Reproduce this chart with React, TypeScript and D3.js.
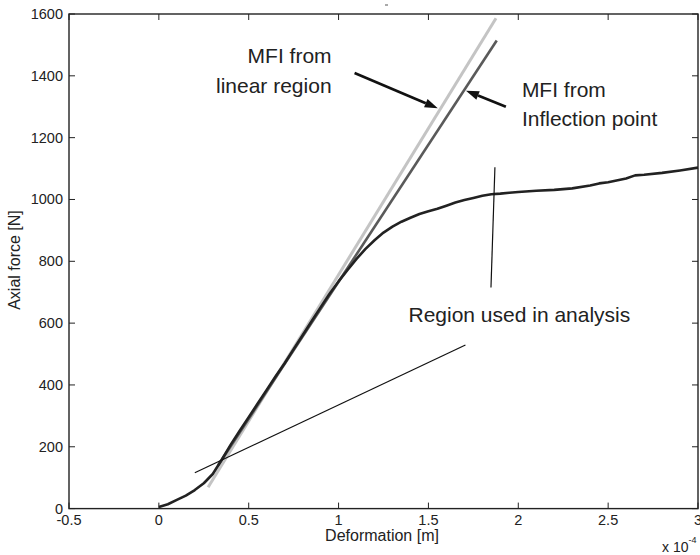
import React from "react";
import * as d3 from "d3";

// Measured force–deformation curve (deformation in 1e-4 m, force in N)
const measuredDeformation = [
  0.0, 0.05, 0.1, 0.15, 0.2, 0.25, 0.3, 0.35, 0.4, 0.45, 0.5, 0.55, 0.6, 0.65,
  0.7, 0.75, 0.8, 0.85, 0.9, 0.95, 1.0, 1.05, 1.1, 1.15, 1.2, 1.25, 1.3, 1.35,
  1.4, 1.45, 1.5, 1.55, 1.6, 1.65, 1.7, 1.75, 1.8, 1.85, 1.9, 1.95, 2.0, 2.1,
  2.2, 2.3, 2.4, 2.45, 2.5, 2.6, 2.65, 2.7, 2.8, 2.9, 3.0,
];
const measuredForce = [
  5, 14, 28, 42, 60, 82, 112, 158, 207, 252, 296, 340, 384, 428,
  470, 516, 561, 606, 651, 695, 735, 772, 808, 840, 868, 893, 912, 928,
  941, 953, 962, 970, 980, 990, 998, 1005, 1012, 1017, 1019, 1022, 1024, 1028,
  1031, 1036, 1045, 1052, 1056, 1068, 1078, 1080, 1086, 1094, 1103,
];

// Fitted MFI lines: [deformation, force] end points
const mfiLinear: [number, number][] = [[0.274, 69], [1.876, 1586]];
const mfiInflection: [number, number][] = [[0.33, 140], [1.88, 1514]];

// Markers delimiting the region used in analysis
const regionLower: [number, number][] = [[0.2, 116], [1.706, 529]];
const regionUpper: [number, number][] = [[1.87, 1104], [1.848, 715]];

// Annotation arrows: [from, to]
const arrowLinear: [number, number][] = [[1.089, 1409], [1.552, 1295]];
const arrowInflection: [number, number][] = [[1.931, 1300], [1.709, 1352]];

const xTicks = [-0.5, 0, 0.5, 1, 1.5, 2, 2.5, 3];
const yTicks = [0, 200, 400, 600, 800, 1000, 1200, 1400, 1600];

const W = 700;
const H = 555;
const left = 69;
const right = 698;
const top = 14;
const bottom = 508.6;
const font = "'Liberation Sans', Arial, Helvetica, sans-serif";

export default function App() {
  const x = d3.scaleLinear().domain([-0.5, 3]).range([left, right]);
  const y = d3.scaleLinear().domain([0, 1600]).range([bottom, top]);
  const line = d3
    .line<[number, number]>()
    .x((d) => x(d[0]))
    .y((d) => y(d[1]));

  const measured: [number, number][] = measuredDeformation.map((d, i) => [d, measuredForce[i]]);

  const arrow = (pts: [number, number][], key: string) => {
    const [x0, y0] = [x(pts[0][0]), y(pts[0][1])];
    const [x1, y1] = [x(pts[1][0]), y(pts[1][1])];
    const ang = Math.atan2(y1 - y0, x1 - x0);
    const len = 13;
    const hw = 4.5;
    const bx = x1 - len * Math.cos(ang);
    const by = y1 - len * Math.sin(ang);
    const px = -Math.sin(ang) * hw;
    const py = Math.cos(ang) * hw;
    return (
      <g key={key}>
        <line x1={x0} y1={y0} x2={bx} y2={by} stroke="#111" strokeWidth={2.6} />
        <polygon
          points={`${x1},${y1} ${bx + px},${by + py} ${bx - px},${by - py}`}
          fill="#111"
        />
      </g>
    );
  };

  return (
    <svg
      width={W}
      height={H}
      style={{ position: "absolute", left: 0, top: 0, background: "#fff" }}
      fontFamily={font}
    >
      <rect x={0} y={0} width={W} height={H} fill="#fff" />

      {/* data lines */}
      <path d={line(mfiLinear) || ""} stroke="#c4c4c4" strokeWidth={3} fill="none" />
      <path d={line(mfiInflection) || ""} stroke="#5a5a5a" strokeWidth={2.6} fill="none" />
      <path
        d={line(measured) || ""}
        stroke="#222"
        strokeWidth={2.6}
        fill="none"
        strokeLinejoin="round"
      />
      <path d={line(regionLower) || ""} stroke="#111" strokeWidth={1.2} fill="none" />
      <path d={line(regionUpper) || ""} stroke="#111" strokeWidth={1.2} fill="none" />

      {arrow(arrowLinear, "a1")}
      {arrow(arrowInflection, "a2")}

      {/* annotations */}
      <g fontSize={21} fill="#222">
        <text x={x(0.961)} y={y(1441)} textAnchor="end">MFI from</text>
        <text x={x(0.961)} y={y(1344)} textAnchor="end">linear region</text>
        <text x={x(2.02)} y={y(1332)}>MFI from</text>
        <text x={x(2.02)} y={y(1239)}>Inflection point</text>
        <text x={x(1.389)} y={y(604)}>Region used in analysis</text>
      </g>

      {/* axes box */}
      <rect
        x={left}
        y={top}
        width={right - left}
        height={bottom - top}
        fill="none"
        stroke="#222"
        strokeWidth={1.4}
      />
      {xTicks.map((t) => (
        <g key={"x" + t}>
          <line x1={x(t)} x2={x(t)} y1={bottom} y2={bottom - 6} stroke="#222" strokeWidth={1} />
          <line x1={x(t)} x2={x(t)} y1={top} y2={top + 6} stroke="#222" strokeWidth={1} />
          <text x={x(t)} y={bottom + 16.5} textAnchor="middle" fontSize={14.5} fill="#222">
            {String(t)}
          </text>
        </g>
      ))}
      {yTicks.map((t) => (
        <g key={"y" + t}>
          <line x1={left} x2={left + 6} y1={y(t)} y2={y(t)} stroke="#222" strokeWidth={1} />
          <line x1={right} x2={right - 6} y1={y(t)} y2={y(t)} stroke="#222" strokeWidth={1} />
          <text x={left - 6} y={y(t) + 5} textAnchor="end" fontSize={14.5} fill="#222">
            {String(t)}
          </text>
        </g>
      ))}

      {/* axis labels */}
      <text x={382} y={540.5} textAnchor="middle" fontSize={16} fill="#222">
        Deformation [m]
      </text>
      <text
        transform={`translate(20, 260) rotate(-90)`}
        textAnchor="middle"
        fontSize={16}
        fill="#222"
      >
        Axial force [N]
      </text>
      <text x={662} y={552} fontSize={14} fill="#222">
        x 10
        <tspan dy={-9} fontSize={9}>-4</tspan>
      </text>
      <line x1={385} x2={388} y1={5} y2={5} stroke="#555" strokeWidth={1} />
    </svg>
  );
}
